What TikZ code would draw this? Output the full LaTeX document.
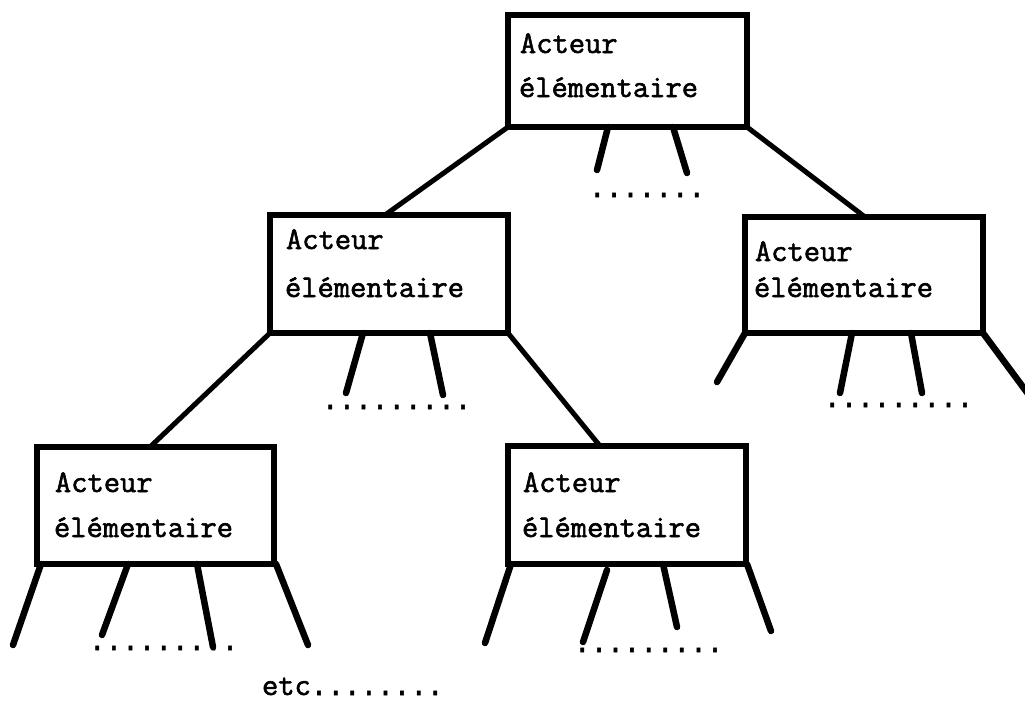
\documentclass[tikz,border=0pt]{standalone}
\usepackage{fontspec}
\setmonofont{Latin Modern Mono}[FakeBold=1.8]
\newfontfamily\dotsfam{Liberation Mono}[FakeBold=2]
\usetikzlibrary{calc}
\newcommand{\mydots}{\dotsfam\fontsize{27.65}{34}\selectfont}
\tikzset{
  actor/.style={draw=black, line width=6pt, rectangle, inner sep=0pt, outer sep=0pt, minimum width=#1},
  txt/.style={inner sep=0pt, outer sep=0pt, anchor=base west, font=\ttfamily\fontsize{31.6}{34}\selectfont},
  dotrow/.style={inner sep=0pt, outer sep=0pt, anchor=base west, font=\mydots},
  link/.style={line width=5pt, line cap=round, line join=round},
  leg/.style={line width=6.5pt, line cap=round}
}
\begin{document}
\begin{tikzpicture}[x=1pt,y=-1pt]
\useasboundingbox (0,0) rectangle (1025,702);
\fill[white] (0,0) rectangle (1025,702);
\clip (0,0) rectangle (1025,702);

% boxes
\node[actor=239pt, minimum height=112pt] (A) at (627.5,71) {};
\node[actor=238pt, minimum height=118pt] (B) at (389,274) {};
\node[actor=238pt, minimum height=116pt] (C) at (864,275) {};
\node[actor=237pt, minimum height=117pt] (D) at (155.5,505.5) {};
\node[actor=238pt, minimum height=118pt] (E) at (627,505) {};

% texts
\node[txt] (A1) at (520,53) {Acteur};
\node[txt] (A2) at (519,97) {élémentaire};
\node[txt] (B1) at (286,249) {Acteur};
\node[txt] (B2) at (285,297) {élémentaire};
\node[txt] (C1) at (755,261) {Acteur};
\node[txt] (C2) at (754,297) {élémentaire};
\node[txt] (D1) at (55,492) {Acteur};
\node[txt] (D2) at (54,537) {élémentaire};
\node[txt] (E1) at (523,492) {Acteur};
\node[txt] (E2) at (522,537) {élémentaire};

% connectors between boxes
\draw[link] (A.south west) -- ([xshift=115pt]B.north west);
\draw[link] (A.south east) -- ([xshift=120pt]C.north west);
\draw[link] (B.south west) -- ([xshift=113pt]D.north west);
\draw[link] (B.south east) -- ([xshift=92pt]E.north west);

% free ends of legs
\coordinate (a1) at (597,170);
\coordinate (a2) at (687,173);
\coordinate (b1) at (346,393);
\coordinate (b2) at (443,395);
\coordinate (c1) at (717,382);
\coordinate (c2) at (840,393);
\coordinate (c3) at (922,393);
\coordinate (c4) at (1040,410);
\coordinate (d1) at (13,645);
\coordinate (d2) at (102,635);
\coordinate (d3) at (213,647);
\coordinate (d4) at (308,645);
\coordinate (e1) at (485,643);
\coordinate (e2) at (583,642);
\coordinate (e3) at (677,627);
\coordinate (e4) at (771,631);

% legs
\draw[leg] ([xshift=100pt]A.south west) -- (a1);
\draw[leg] ([xshift=165pt]A.south west) -- (a2);
\draw[leg] ([xshift=93pt]B.south west) -- (b1);
\draw[leg] ([xshift=160pt]B.south west) -- (b2);
\draw[leg] (C.south west) -- (c1);
\draw[leg] ([xshift=107pt]C.south west) -- (c2);
\draw[leg] ([xshift=166pt]C.south west) -- (c3);
\draw[leg] (C.south east) -- (c4);
\draw[leg] ([xshift=4pt]D.south west) -- (d1);
\draw[leg] ([xshift=91pt]D.south west) -- (d2);
\draw[leg] ([xshift=160pt]D.south west) -- (d3);
\draw[leg] ([xshift=2pt]D.south east) -- (d4);
\draw[leg] ([xshift=3pt]E.south west) -- (e1);
\draw[leg] ([xshift=99pt,yshift=-6pt]E.south west) -- (e2);
\draw[leg] ([xshift=155pt]E.south west) -- (e3);
\draw[leg] ([xshift=1pt]E.south east) -- (e4);

% dot rows
\node[dotrow] (Ad) at (589,197) {.......};
\node[dotrow] (Bd) at (322,409) {.........};
\node[dotrow] (Cd) at (824,407) {.........};
\node[dotrow] (Dd) at (89,650) {.........};
\node[dotrow] (Ed) at (574,652) {.........};
\node[txt] (etc) at (262,695) {etc{\mydots ........}};
\end{tikzpicture}
\end{document}
